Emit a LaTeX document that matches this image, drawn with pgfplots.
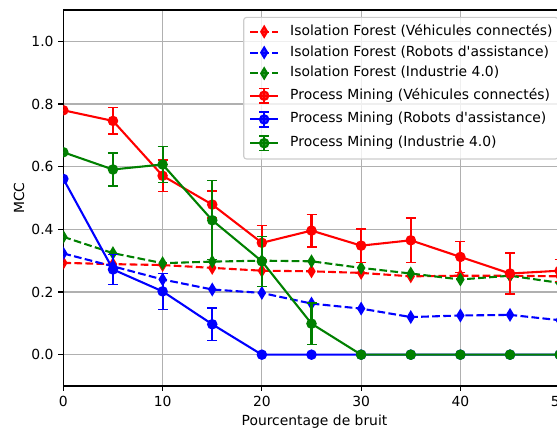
\documentclass[border=0pt]{standalone}
\usepackage{fontspec}
\setmainfont{DejaVu Sans}[Ligatures=TeXOff]
\usepackage{pgfplots}
\pgfplotsset{compat=1.18}
\definecolor{mgreen}{rgb}{0,0.5,0}
\definecolor{gridgray}{HTML}{B0B0B0}
\definecolor{legedge}{HTML}{CCCCCC}
\pgfplotsset{
  ifstyle/.style={line width=1.5pt, dash pattern=on 5.55pt off 2.4pt, mark=diamond*,
    mark size=3.6pt, mark options={solid, xscale=0.8},
    legend image code/.code={\draw[mark repeat=2,mark phase=2] plot coordinates {(0pt,0pt)(10pt,0pt)(20pt,0pt)};}},
  pmstyle/.style={line width=1.5pt, solid, mark=*, mark size=3pt, mark options={solid},
    error bars/.cd, y dir=both, y explicit,
    error bar style={line width=1.5pt, solid},
    error mark options={rotate=90, line width=1pt, mark size=3.6pt},
    /pgfplots/.cd,
    legend image code/.code={
      \draw[solid, line width=1.5pt] (10pt,-5.3pt) -- (10pt,5.3pt);
      \draw[solid, line width=1pt] (6.4pt,5.3pt) -- (13.6pt,5.3pt) (6.4pt,-5.3pt) -- (13.6pt,-5.3pt);
      \draw[line width=1.5pt, mark repeat=2,mark phase=2] plot coordinates {(0pt,0pt)(10pt,0pt)(20pt,0pt)};}},
}
\begin{document}
\begin{tikzpicture}
\begin{axis}[
  name=ax,
  scale only axis, width=361.6pt, height=270.7pt,
  xmin=0, xmax=50.6, ymin=-0.1, ymax=1.1,
  xtick={0,10,20,30,40,50},
  ytick={0,0.2,0.4,0.6,0.8,1.0},
  yticklabel style={/pgf/number format/.cd, fixed, fixed zerofill, precision=1},
  /pgf/number format/assume math mode=true,
  ticklabel style={font=\fontsize{10}{12}\selectfont},
  grid=major, grid style={gridgray, line width=0.8pt},
  axis line style={line width=0.8pt},
  tick style={black, line width=0.8pt}, major tick length=3.5pt,
  tick align=outside, tick pos=left,
  clip marker paths=true,
  xlabel={Pourcentage de bruit}, ylabel={MCC},
  label style={font=\fontsize{10}{12}\selectfont},
  xlabel style={at={(axis description cs:0.5,-0.0957)}, anchor=center},
  ylabel style={at={(axis description cs:-0.088,0.5)}, anchor=center, rotate=0},
  legend style={at={(axis description cs:0.9863,0.9817)}, anchor=north east,
    draw=legedge, line width=0.8pt, rounded corners=2pt, fill=white, fill opacity=0.8, text opacity=1,
    font=\fontsize{10}{12}\selectfont, inner xsep=4pt, inner ysep=5.3pt,
    nodes={inner sep=0pt, text height=7.5pt, text depth=2.5pt},
    row sep=5pt, column sep=8pt},
  legend cell align=left,
]
\addplot[ifstyle, red] coordinates {(0,0.293)(5,0.289)(10,0.286)(15,0.277)(20,0.268)(25,0.266)(30,0.261)(35,0.250)(40,0.252)(45,0.252)(50,0.250)};
\addlegendentry{Isolation Forest (Véhicules connectés)}
\addplot[ifstyle, blue] coordinates {(0,0.323)(5,0.282)(10,0.240)(15,0.208)(20,0.197)(25,0.163)(30,0.147)(35,0.120)(40,0.125)(45,0.127)(50,0.110)};
\addlegendentry{Isolation Forest (Robots d'assistance)}
\addplot[ifstyle, mgreen] coordinates {(0,0.376)(5,0.324)(10,0.292)(15,0.297)(20,0.300)(25,0.298)(30,0.277)(35,0.259)(40,0.240)(45,0.252)(50,0.229)};
\addlegendentry{Isolation Forest (Industrie 4.0)}
\addplot[pmstyle, red] coordinates {(0,0.780) +- (0,0) (5,0.746) +- (0,0.042) (10,0.571) +- (0,0.050) (15,0.479) +- (0,0.043) (20,0.357) +- (0,0.055) (25,0.396) +- (0,0.052) (30,0.348) +- (0,0.053) (35,0.365) +- (0,0.071) (40,0.312) +- (0,0.050) (45,0.259) +- (0,0.065) (50,0.268) +- (0,0.035)};
\addlegendentry{Process Mining (Véhicules connectés)}
\addplot[pmstyle, blue] coordinates {(0,0.561) +- (0,0) (5,0.272) +- (0,0.048) (10,0.202) +- (0,0.058) (15,0.097) +- (0,0.052) (20,0) +- (0,0) (25,0) +- (0,0) (30,0) +- (0,0) (35,0) +- (0,0) (40,0) +- (0,0) (45,0) +- (0,0) (50,0) +- (0,0)};
\addlegendentry{Process Mining (Robots d'assistance)}
\addplot[pmstyle, mgreen] coordinates {(0,0.646) +- (0,0) (5,0.591) +- (0,0.053) (10,0.607) +- (0,0.058) (15,0.429) +- (0,0.126) (20,0.298) +- (0,0.080) (25,0.099) +- (0,0.066) (30,0) +- (0,0) (35,0) +- (0,0) (40,0) +- (0,0) (45,0) +- (0,0) (50,0) +- (0,0)};
\addlegendentry{Process Mining (Industrie 4.0)}
\end{axis}
\pgfresetboundingbox
\path[use as bounding box] ([shift={(-45.6pt,-31.7pt)}]ax.south west) rectangle +(401pt,309.6pt);
\end{tikzpicture}
\end{document}
